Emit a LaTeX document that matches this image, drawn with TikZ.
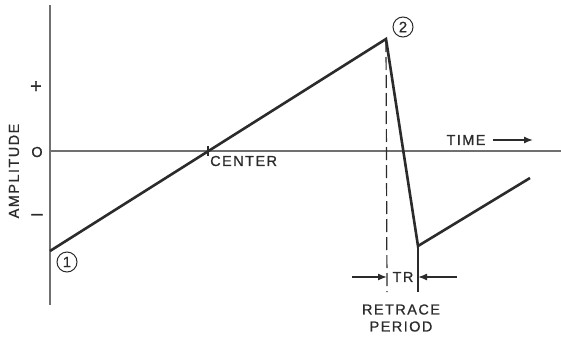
\documentclass[tikz,border=0pt]{standalone}
\usepackage{fontspec}
\setmainfont{Liberation Sans}
\usetikzlibrary{arrows.meta,positioning}
\definecolor{InkDark}{HTML}{2B2B2B}
\definecolor{AxisGray}{HTML}{707070}
\tikzset{
  lbl/.style={font=\fontsize{14.5}{17}\selectfont\addfontfeature{LetterSpace=10,FakeBold=0.8}, text=InkDark, inner sep=0pt, align=center},
  sign/.style={font=\fontsize{20}{20}\selectfont\addfontfeature{FakeBold=1.5}, text=InkDark, inner sep=0pt},
  ptcircle/.style={circle, draw=InkDark, line width=1pt, minimum size=20pt, inner sep=0pt,
                   font=\fontsize{15}{15}\selectfont\addfontfeature{FakeBold=0.6}, text=InkDark},
  axisline/.style={AxisGray, line width=1.3pt},
  wave/.style={InkDark, line width=2.6pt, line join=miter},
  dashline/.style={InkDark, line width=1.2pt, dash pattern=on 13pt off 5pt},
  dimline/.style={InkDark, line width=1.1pt},
  dimarr/.style={-{Latex[length=9pt, width=7pt]}, InkDark, line width=1.4pt}
}
\begin{document}
\begin{tikzpicture}[x=1pt, y=-1pt]
\useasboundingbox (0,0) rectangle (561,337);
% axes
\coordinate (ytop) at (50,5);
\coordinate (ybot) at (50,305);
\coordinate (orig) at (50,151);
\coordinate (xend) at (561,151);
\draw[axisline] (ytop) -- (ybot);
\draw[axisline] (orig) -- (xend);
\node[sign] (plus) at (36,87) {+};
\node[lbl] (zero) at (37,152) {O};
\node[sign] (minus) at (37,217) {--};
\node[lbl, rotate=90] (amp) at (14,171) {AMPLITUDE};
% sweep
\coordinate (p1) at (50,251);
\coordinate (p2) at (386,39);
\coordinate (p3) at (418,246);
\coordinate (p4) at (530,178);
\draw[wave] (p1) -- (p2) -- (p3) -- (p4);
\node[ptcircle] (one) at (67,262) {1};
\node[ptcircle] (two) at (403,27) {2};
% center
\coordinate (ctr) at (208,151);
\draw[dimline] ([yshift=5pt]ctr) -- ([yshift=-5pt]ctr);
\node[lbl, anchor=west] (ctrlbl) at (210,161) {CENTER};
% time
\node[lbl] (time) at (466,140) {TIME};
\coordinate (tend) at (533,140);
\draw[dimarr] ([xshift=7pt]time.east) -- (tend);
% retrace
\coordinate (dl) at (387,292);
\coordinate (dr) at (418,292);
\draw[dashline] (p2) -- (dl);
\draw[dimline] (p3) -- (dr);
\node[lbl] (tr) at (403,277) {TR};
\coordinate (al) at (352,277);
\coordinate (ar) at (457,277);
\draw[dimarr] (al) -- (al -| dl);
\draw[dimarr] (ar) -- (ar -| dr);
\node[lbl] (rp) at (401,318) {RETRACE\\PERIOD};
\end{tikzpicture}
\end{document}
